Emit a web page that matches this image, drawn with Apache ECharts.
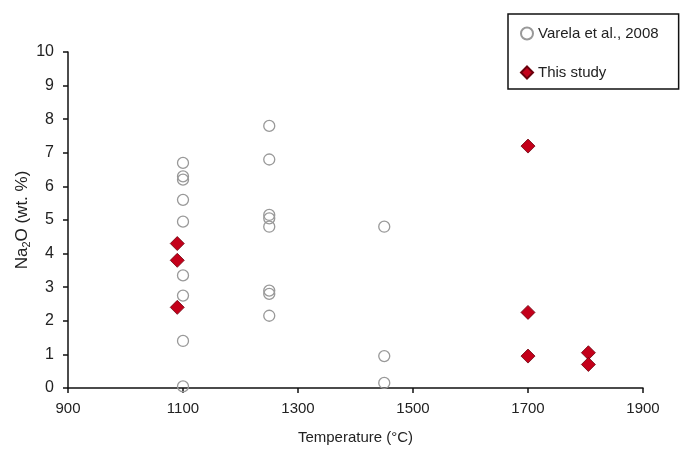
<!DOCTYPE html>
<html><head><meta charset="utf-8">
<script src="https://cdn.jsdelivr.net/npm/echarts@6/dist/echarts.min.js"></script>
<style>html,body{margin:0;padding:0;background:#fff}#c{width:685px;height:453px}</style>
</head><body><div id="c"></div>
<script>
// Varela et al., 2008 (temperature °C, Na2O wt.%)
const varelaT = [1100,1100,1100,1100,1100,1100,1100,1100,1100,1250,1250,1250,1250,1250,1250,1250,1250,1450,1450,1450];
const varelaNa = [6.7,6.3,6.2,5.6,4.95,3.35,2.75,1.4,0.05,7.8,6.8,5.15,5.05,4.8,2.9,2.8,2.15,4.8,0.95,0.15];
// This study
const studyT = [1090,1090,1090,1700,1700,1700,1805,1805];
const studyNa = [4.3,3.8,2.4,7.2,2.25,0.95,1.05,0.7];
const xTicks = [900,1100,1300,1500,1700,1900];

const chart = echarts.init(document.getElementById('c'));
const font = 'Liberation Sans, Arial, sans-serif';
chart.setOption({
  animation:false,
  backgroundColor:'#fff',
  textStyle:{fontFamily:font},
  grid:{left:68,right:42,top:52,bottom:65},
  legend:{
    orient:'vertical', left:508, top:14,
    borderColor:'#111', borderWidth:1.5,
    padding:[12,20,9,12], itemGap:24,
    itemWidth:12, itemHeight:12,
    textStyle:{fontSize:15,color:'#222',fontFamily:font},
    data:['Varela et al., 2008','This study']
  },
  xAxis:{
    type:'value', min:xTicks[0], max:xTicks[xTicks.length-1], interval:200,
    name:'Temperature (°C)', nameLocation:'middle', nameGap:42,
    nameTextStyle:{fontSize:15,color:'#222'},
    axisLine:{lineStyle:{color:'#111',width:1.5}},
    axisTick:{show:true,length:5,lineStyle:{color:'#111',width:1.5}},
    axisLabel:{fontSize:15,color:'#222',margin:13,formatter:v=>String(v)},
    splitLine:{show:false}
  },
  yAxis:{
    type:'value', min:0, max:10, interval:1,
    name:'Na{sub|2}O (wt. %)', nameLocation:'middle', nameGap:36, nameMoveOverlap:false,
    nameTextStyle:{fontSize:17,color:'#222',rich:{sub:{fontSize:11,verticalAlign:'bottom',padding:[9,0,0,0],color:'#222'}}},
    axisLine:{show:true,lineStyle:{color:'#111',width:1.5}},
    axisTick:{show:true,length:5,lineStyle:{color:'#111',width:1.5}},
    axisLabel:{fontSize:16,color:'#222',margin:14},
    splitLine:{show:false}
  },
  series:[
    {name:'Varela et al., 2008', type:'scatter', symbol:'circle', symbolSize:11,
     itemStyle:{color:'rgba(255,255,255,0)',borderColor:'#999',borderWidth:1.3,opacity:1},
     data:varelaT.map((t,i)=>[t,varelaNa[i]])},
    {name:'This study', type:'scatter', symbol:'diamond', symbolSize:[14,14],
     itemStyle:{color:'#c4001a',borderColor:'#6a000c',borderWidth:0.8,opacity:1},
     data:studyT.map((t,i)=>[t,studyNa[i]])}
  ]
});
</script></body></html>
